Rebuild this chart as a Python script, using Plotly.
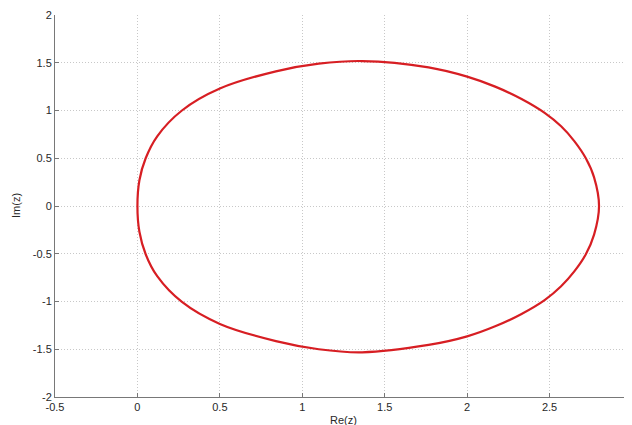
import plotly.graph_objects as go

# Boundary curve (closed path, starting at the top)
re_upper_right = [1.363, 1.766, 2.0, 2.17, 2.33, 2.47, 2.57, 2.65, 2.72, 2.77, 2.80]
im_upper_right = [1.518, 1.452, 1.355, 1.25, 1.12, 0.975, 0.835, 0.68, 0.50, 0.30, 0.0]

re_lower = [2.77, 2.72, 2.65, 2.57, 2.47, 2.33, 2.17, 2.0, 1.766, 1.363,
            1.1, 0.84, 0.5, 0.27, 0.12, 0.05, 0.012, 0.0]
im_lower = [-0.30, -0.505, -0.685, -0.84, -0.985, -1.13, -1.26, -1.365, -1.455, -1.532,
            -1.50, -1.415, -1.235, -1.005, -0.735, -0.505, -0.27, 0.0]

re_upper_left = [0.012, 0.05, 0.12, 0.27, 0.5, 0.84, 1.1, 1.363]
im_upper_left = [0.27, 0.5, 0.73, 1.0, 1.23, 1.41, 1.49, 1.518]

x_ticks = [-0.5, 0, 0.5, 1, 1.5, 2, 2.5, 3]
x_labels = ["-0.5", "0", "0.5", "1", "1.5", "2", "2.5", "3"]
y_ticks = [-2, -1.5, -1, -0.5, 0, 0.5, 1, 1.5, 2]
y_labels = ["-2", "-1.5", "-1", "-0.5", "0", "0.5", "1", "1.5", "2"]

re_z = re_upper_right + re_lower + re_upper_left
im_z = im_upper_right + im_lower + im_upper_left

FONT = "Liberation Sans, Arial, Helvetica, sans-serif"
TXT = "rgb(40,40,40)"

fig = go.Figure()
fig.add_trace(go.Scatter(
    x=re_z, y=im_z, mode="lines", fill="toself", fillcolor="rgba(0,0,0,0)",
    line=dict(color="rgb(215,30,35)", width=2.2, shape="spline", smoothing=1.0),
    hoverinfo="skip", showlegend=False,
))

axis_common = dict(
    showgrid=True, gridcolor="rgb(200,200,200)", griddash="1px,2px", gridwidth=1,
    showline=True, linecolor="rgb(120,120,120)", linewidth=1,
    ticks="inside", ticklen=4, tickcolor="rgb(120,120,120)",
    zeroline=False, mirror=False,
    tickfont=dict(family=FONT, size=11, color=TXT),
)

fig.update_layout(
    width=624, height=417,
    margin=dict(l=47, r=0, t=7, b=28),
    paper_bgcolor="white", plot_bgcolor="white",
    xaxis=dict(range=[-0.5, 3], tickvals=x_ticks, ticktext=x_labels, **axis_common),
    yaxis=dict(range=[-2, 2], tickvals=y_ticks, ticktext=y_labels, **axis_common),
    annotations=[
        dict(text="Re(z)", xref="paper", yref="paper", x=0.5, y=0, yshift=-23,
             xanchor="center", yanchor="middle", showarrow=False,
             font=dict(family=FONT, size=11, color=TXT)),
        dict(text="Im(z)", xref="paper", yref="paper", x=0, y=0.5, xshift=-39,
             xanchor="center", yanchor="middle", textangle=-90, showarrow=False,
             font=dict(family=FONT, size=11, color=TXT)),
    ],
)

fig.write_html("out.html")
